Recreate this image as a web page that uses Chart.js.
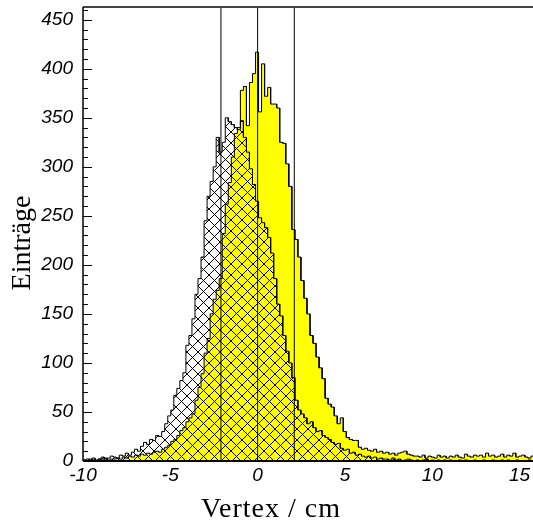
<!DOCTYPE html>
<html><head><meta charset="utf-8">
<script src="https://cdn.jsdelivr.net/npm/chart.js@4"></script>
<style>html,body{margin:0;padding:0;overflow:hidden;background:#fff;width:533px;height:524px}</style>
</head><body>
<canvas id="c" width="540" height="524" style="display:block;width:540px;height:524px"></canvas>
<script>
// ---- data ----
const xRange = [-10, 16];
const nBins = 150;
const yRange = [0, 463];
const xTickValues = [-10, -5, 0, 5, 10, 15];
const yTickValues = [0, 50, 100, 150, 200, 250, 300, 350, 400, 450];
const markers = [-2.1, 0, 2.1];
const xTitle = "Vertex / cm";
const yTitle = "Einträge";

const hatched = [
1,2,0,3,1,2,4,2,3,5,
4,3,6,5,8,6,9,12,10,15,
19,17,22,21,26,25,30,38,46,52,
67,74,82,90,118,128,145,170,186,208,
245,270,285,300,330,315,325,350,346,343,
340,338,347,330,315,298,282,265,248,243,
238,228,212,186,160,148,128,112,100,85,
62,52,48,44,38,40,34,30,31,26,
24,22,19,17,18,13,11,12,8,9,
6,7,5,4,5,3,4,2,3,2,
2,1,3,1,2,0,1,2,1,0,
1,0,1,2,0,1,0,1,0,1,
0,1,0,0,1,0,1,0,0,1,
0,0,1,0,0,1,0,0,1,0,
1,0,0,1,0,0,0,1,0,0];

const yellow = [
1,0,2,1,0,2,1,3,1,2,
2,3,2,4,3,5,4,6,5,7,
6,8,7,9,10,9,12,14,16,20,
22,26,31,34,40,44,48,62,75,89,
110,125,150,165,174,186,232,262,284,310,
334,340,378,382,342,386,395,417,356,405,
372,381,364,364,360,325,324,303,280,236,
226,208,184,166,150,128,120,106,95,84,
64,58,55,46,38,44,30,24,22,21,
21,14,12,13,11,10,12,9,10,8,
9,7,8,6,8,9,10,7,6,5,
5,4,6,3,5,4,3,6,4,5,
3,5,4,6,4,3,7,5,4,6,
5,6,4,8,5,6,4,5,7,4,
6,5,8,4,5,6,4,3,5,4];

// ---- helpers ----
function histPoints(vals){
  const w = (xRange[1]-xRange[0])/nBins;
  const pts = [{x:xRange[0], y:0}];
  vals.forEach((v,i)=>{ const a = xRange[0]+i*w; pts.push({x:a,y:v},{x:a+w,y:v}); });
  pts.push({x:xRange[1], y:0});
  return pts;
}
function makeHatch(){
  const s = 11;
  const pc = document.createElement('canvas'); pc.width = s; pc.height = s;
  const g = pc.getContext('2d');
  g.strokeStyle = '#000'; g.lineWidth = 1;
  g.beginPath();
  for (const k of [-s, 0, s]) {
    g.moveTo(k-1, -1); g.lineTo(k+s+1, s+1);
    g.moveTo(k+s+1, -1); g.lineTo(k-1, s+1);
  }
  g.stroke();
  return g.createPattern(pc, 'repeat');
}
function noPad(s){ s.paddingTop = 0; s.paddingBottom = 0; s.paddingLeft = 0; s.paddingRight = 0; }

const decor = {
  id: 'decor',
  afterDatasetsDraw(chart){
    const {ctx, chartArea:a, scales:{x, y}} = chart;
    ctx.save();
    ctx.strokeStyle = '#000'; ctx.lineWidth = 1;
    markers.forEach(m=>{
      const px = x.getPixelForValue(m);
      ctx.beginPath(); ctx.moveTo(px, a.top); ctx.lineTo(px, a.bottom); ctx.stroke();
    });
    ctx.strokeStyle = '#444'; ctx.lineWidth = 2;
    ctx.beginPath(); ctx.moveTo(a.left, a.top); ctx.lineTo(a.right, a.top); ctx.stroke();
    ctx.strokeStyle = '#000'; ctx.lineWidth = 1.5;
    ctx.beginPath(); ctx.moveTo(a.left, a.top); ctx.lineTo(a.left, a.bottom); ctx.stroke();
    ctx.lineWidth = 2;
    ctx.beginPath(); ctx.moveTo(a.left, a.bottom); ctx.lineTo(a.right, a.bottom); ctx.stroke();
    ctx.lineWidth = 1;
    for (let v = 0; v <= yRange[1]; v += 10) {
      const py = Math.round(y.getPixelForValue(v)) + 0.5;
      const len = (v % 50 === 0) ? 9 : 5;
      ctx.beginPath(); ctx.moveTo(a.left, py); ctx.lineTo(a.left+len, py); ctx.stroke();
    }
    ctx.fillStyle = '#000';
    ctx.font = '28px "Liberation Serif"';
    ctx.textAlign = 'center'; ctx.textBaseline = 'alphabetic';
    try { ctx.letterSpacing = '1px'; } catch(e) {}
    ctx.fillText(xTitle, 271, 517);
    try { ctx.letterSpacing = '0px'; } catch(e) {}
    ctx.translate(30, 243); ctx.rotate(-Math.PI/2);
    ctx.fillText(yTitle, 0, 0);
    ctx.restore();
  }
};

const tickFont = {family:'"Liberation Sans"', style:'italic', size:19};

new Chart(document.getElementById('c'), {
  type: 'line',
  data: { datasets: [
    { label:'hatched', data: histPoints(hatched), borderColor:'#000', borderWidth:1,
      backgroundColor: makeHatch(), fill:'origin', pointRadius:0, tension:0, order:0 },
    { label:'yellow', data: histPoints(yellow), borderColor:'#000', borderWidth:1,
      backgroundColor:'#ffff00', fill:'origin', pointRadius:0, tension:0, order:1 }
  ]},
  options: {
    responsive:false, animation:false, events:[],
    layout:{ padding:{top:7, right:3, left:0, bottom:0} },
    plugins:{ legend:{display:false}, tooltip:{enabled:false} },
    scales:{
      x:{ type:'linear', min:xRange[0], max:xRange[1],
        grid:{display:false, drawTicks:false}, border:{display:false},
        ticks:{ font:tickFont, color:'#000', padding:3, maxRotation:0, autoSkip:false, includeBounds:false,
          callback:v=>String(v) },
        afterBuildTicks:s=>{ s.ticks = xTickValues.map(v=>({value:v})); },
        afterFit:s=>{ s.height = 63; noPad(s); } },
      y:{ type:'linear', min:yRange[0], max:yRange[1],
        grid:{display:false, drawTicks:false}, border:{display:false},
        ticks:{ font:tickFont, color:'#000', padding:10, autoSkip:false, includeBounds:false,
          callback:v=>String(v) },
        afterBuildTicks:s=>{ s.ticks = yTickValues.map(v=>({value:v})); },
        afterFit:s=>{ s.width = 83; noPad(s); } }
    }
  },
  plugins:[decor]
});
</script>
</body></html>
